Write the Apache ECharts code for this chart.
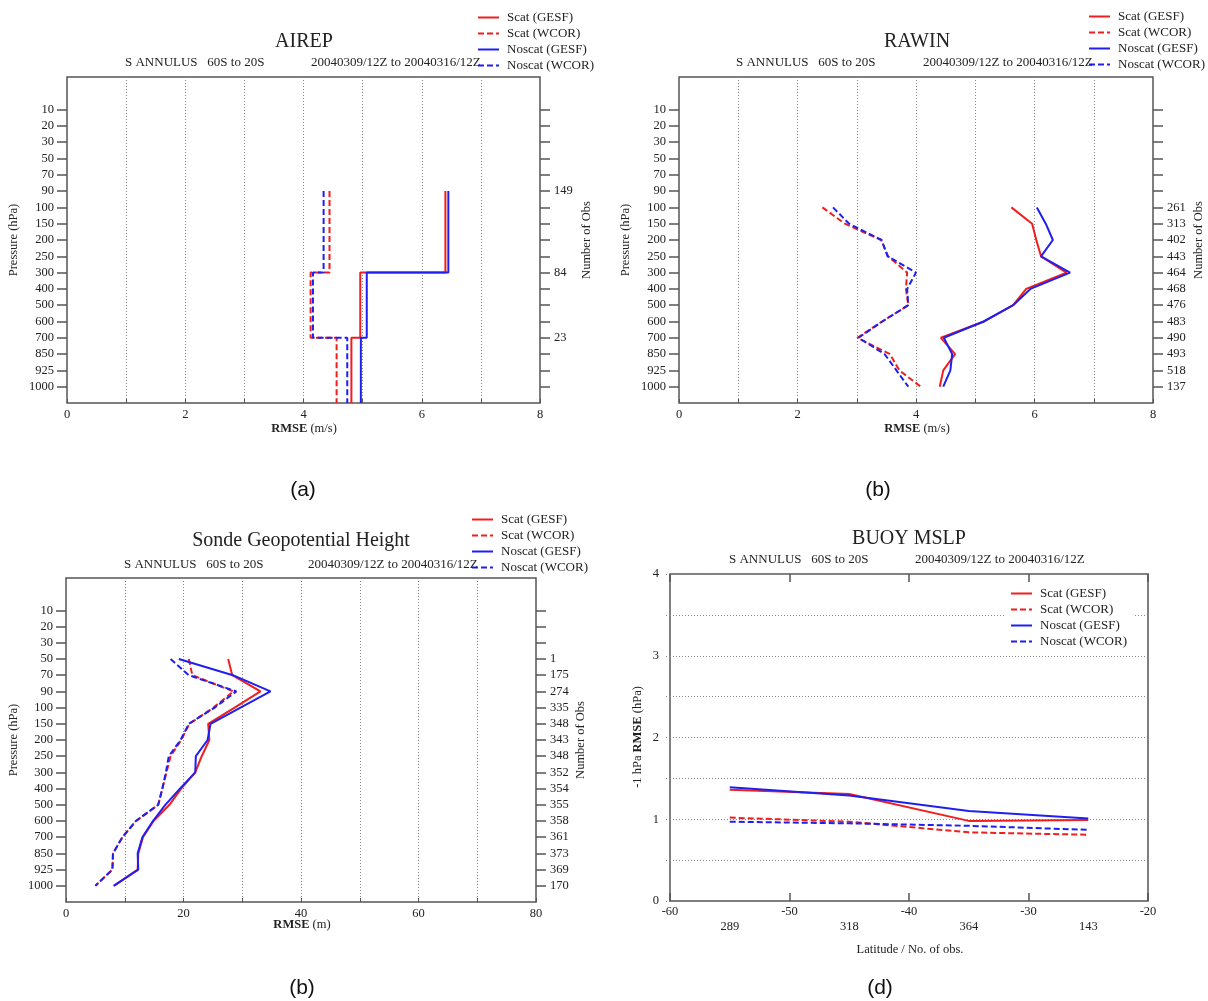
<!DOCTYPE html>
<html>
<head>
<meta charset="utf-8">
<script src="https://cdn.jsdelivr.net/npm/echarts@6/dist/echarts.min.js"></script>
<style>
  html, body { margin: 0; padding: 0; background: #fff; }
  #chart { width: 1208px; height: 1001px; }
</style>
</head>
<body>
<div id="chart"></div>
<script>
// Standard pressure levels (hPa), top of the atmosphere first
const LEVELS = ['10', '20', '30', '50', '70', '90', '100', '150', '200', '250', '300', '400', '500', '600', '700', '850', '925', '1000'];
const SERIES_NAMES = ['Scat (GESF)', 'Scat (WCOR)', 'Noscat (GESF)', 'Noscat (WCOR)'];

// AIREP wind RMSE (m/s): one value per layer, layer starts at the given level and runs to the next
const airepLayerTops = ['90', '300', '700'];
const airepObs = [149, 84, 23];
const airepScatGesf = [6.40, 4.96, 4.81];
const airepScatWcor = [4.44, 4.12, 4.56];
const airepNoscatGesf = [6.45, 5.07, 4.97];
const airepNoscatWcor = [4.34, 4.16, 4.74];

// RAWIN wind RMSE (m/s)
const rawinLevels = ['100', '150', '200', '250', '300', '400', '500', '600', '700', '850', '925', '1000'];
const rawinObs = [261, 313, 402, 443, 464, 468, 476, 483, 490, 493, 518, 137];
const rawinScatGesf = [5.61, 5.96, 6.03, 6.11, 6.54, 5.86, 5.64, 5.15, 4.42, 4.66, 4.46, 4.40];
const rawinScatWcor = [2.42, 2.80, 3.41, 3.53, 3.85, 3.83, 3.87, 3.43, 3.01, 3.56, 3.72, 4.08];
const rawinNoscatGesf = [6.04, 6.19, 6.31, 6.11, 6.60, 5.93, 5.64, 5.14, 4.47, 4.61, 4.58, 4.46];
const rawinNoscatWcor = [2.60, 2.87, 3.42, 3.52, 4.00, 3.85, 3.87, 3.43, 3.03, 3.47, 3.67, 3.87];

// Sonde geopotential height RMSE (m)
const sondeLevels = ['50', '70', '90', '100', '150', '200', '250', '300', '400', '500', '600', '700', '850', '925', '1000'];
const sondeObs = [1, 175, 274, 335, 348, 343, 348, 352, 354, 355, 358, 361, 373, 369, 170];
const sondeScatGesf = [27.6, 28.3, 33.1, 28.7, 24.2, 24.4, 23.1, 22.0, 19.6, 17.6, 14.9, 13.1, 12.3, 12.2, 8.2];
const sondeScatWcor = [20.9, 21.5, 28.5, 25.1, 21.0, 19.6, 17.8, 17.1, 16.4, 15.7, 11.9, 9.6, 8.0, 7.9, 5.0];
const sondeNoscatGesf = [19.2, 28.4, 34.8, 29.7, 24.6, 24.1, 22.1, 22.0, 19.4, 16.9, 14.8, 13.0, 12.2, 12.3, 8.1];
const sondeNoscatWcor = [17.8, 20.9, 29.0, 25.3, 20.9, 19.5, 17.5, 17.0, 16.4, 15.7, 11.9, 9.6, 8.0, 7.9, 5.0];

// Buoy MSLP RMSE (hPa) by latitude band centre
const buoyLatitudes = [-55, -45, -35, -25];
const buoyObs = [289, 318, 364, 143];
const buoyScatGesf = [1.36, 1.31, 0.98, 0.99];
const buoyScatWcor = [1.02, 0.97, 0.84, 0.81];
const buoyNoscatGesf = [1.39, 1.29, 1.10, 1.01];
const buoyNoscatWcor = [0.97, 0.95, 0.92, 0.87];

const SERIF = '"Liberation Serif", "Times New Roman", serif';
const SANS = '"Liberation Sans", Arial, sans-serif';
const RED = '#f21d1d';
const BLUE = '#1f1ff2';
const AXIS = '#555';
const TEXT = '#222';
const GRID_LINE = { type: [1, 2], color: '#8a8a8a', width: 1 };
const COLORS = [RED, RED, BLUE, BLUE];
const DASHED = [false, true, false, true];

const labelFont = { fontFamily: SERIF, fontSize: 12.5, color: TEXT };
const NO_LINE = { show: false, onZero: false };

const levelIndex = l => LEVELS.indexOf(l);

// profile points: [value, level index]
function profile(levels, values) {
  return values.map((v, i) => [v, levelIndex(levels[i])]);
}

// layered step profile: each value holds from its layer top down to the next layer (or the surface)
function layered(tops, values) {
  const bounds = tops.map(levelIndex).concat([LEVELS.length]);
  const pts = [];
  values.forEach((v, i) => { pts.push([v, bounds[i]]); pts.push([v, bounds[i + 1]]); });
  return pts;
}

function lineSeries(k, xi, yi, data) {
  return {
    name: SERIES_NAMES[k], type: 'line', xAxisIndex: xi, yAxisIndex: yi,
    data, symbol: 'none', showSymbol: false, animation: false, z: 5,
    lineStyle: { color: COLORS[k], width: 2, type: DASHED[k] ? [6, 3] : 'solid' },
    itemStyle: { color: COLORS[k] }
  };
}

function pressureAxes(gi, obsLevels, obsCounts) {
  const all = LEVELS.map((_, i) => i);
  const obsIdx = obsLevels.map(levelIndex);
  const common = {
    type: 'value', gridIndex: gi, min: -2, max: LEVELS.length, interval: 1, inverse: true,
    axisLine: NO_LINE, splitLine: { show: false }
  };
  return [
    Object.assign({}, common, {
      position: 'left',
      axisTick: { show: true, length: 10, customValues: all, lineStyle: { color: AXIS, width: 1.5 } },
      axisLabel: Object.assign({ customValues: all, margin: 13, formatter: v => LEVELS[v] || '' }, labelFont)
    }),
    Object.assign({}, common, {
      position: 'right',
      axisTick: { show: true, length: 10, customValues: all, lineStyle: { color: AXIS, width: 1.5 } },
      axisLabel: Object.assign({
        customValues: obsIdx, margin: 14,
        formatter: v => { const k = obsIdx.indexOf(v); return k >= 0 ? String(obsCounts[k]) : ''; }
      }, labelFont)
    })
  ];
}

function rmseAxis(gi, max, step, labelStep) {
  return {
    type: 'value', gridIndex: gi, min: 0, max, interval: step, position: 'bottom',
    axisLine: NO_LINE,
    axisTick: { show: true, inside: true, length: 4, lineStyle: { color: AXIS, width: 1 } },
    axisLabel: Object.assign({ margin: 5, formatter: v => (v % labelStep === 0 ? String(v) : '') }, labelFont),
    splitLine: { show: true, showMinLine: false, showMaxLine: false, lineStyle: GRID_LINE }
  };
}

const gridBox = { show: true, borderColor: AXIS, borderWidth: 1.5, backgroundColor: 'transparent' };
const grids = [
  Object.assign({ left: 67, top: 77, width: 473, height: 326 }, gridBox),
  Object.assign({ left: 679, top: 77, width: 474, height: 326 }, gridBox),
  Object.assign({ left: 66, top: 578, width: 470, height: 324 }, gridBox),
  Object.assign({ left: 670, top: 574, width: 478, height: 327 }, gridBox)
];

const xAxes = [
  rmseAxis(0, 8, 1, 2),
  rmseAxis(1, 8, 1, 2),
  rmseAxis(2, 80, 10, 20),
  // buoy latitude axis
  {
    type: 'value', gridIndex: 3, min: -60, max: -20, interval: 10, position: 'bottom',
    axisLine: NO_LINE,
    axisTick: { show: true, inside: true, length: 8, lineStyle: { color: AXIS, width: 1.5 } },
    axisLabel: Object.assign({ margin: 4 }, labelFont),
    splitLine: { show: false }
  },
  {
    type: 'value', gridIndex: 3, min: -60, max: -20, interval: 10, position: 'top',
    axisLine: NO_LINE,
    axisTick: { show: true, inside: true, length: 8, lineStyle: { color: AXIS, width: 1.5 } },
    axisLabel: { show: false }, splitLine: { show: false }
  },
  // observation counts under each latitude band
  {
    type: 'value', gridIndex: 3, min: -60, max: -20, interval: 10, position: 'bottom',
    axisLine: NO_LINE, axisTick: { show: false }, splitLine: { show: false },
    axisLabel: Object.assign({
      customValues: buoyLatitudes, margin: 19,
      formatter: v => { const k = buoyLatitudes.indexOf(v); return k >= 0 ? String(buoyObs[k]) : ''; }
    }, labelFont)
  }
];

const yAxes = [].concat(
  pressureAxes(0, airepLayerTops, airepObs),
  pressureAxes(1, rawinLevels, rawinObs),
  pressureAxes(2, sondeLevels, sondeObs),
  [{
    type: 'value', gridIndex: 3, min: 0, max: 4, interval: 0.5, position: 'left',
    axisLine: NO_LINE,
    axisTick: { show: true, length: 6, lineStyle: GRID_LINE },
    axisLabel: Object.assign({ margin: 11, formatter: v => (Number.isInteger(v) ? String(v) : '') }, labelFont),
    splitLine: { show: true, showMinLine: false, lineStyle: GRID_LINE }
  }]
);

const series = [];
[airepScatGesf, airepScatWcor, airepNoscatGesf, airepNoscatWcor].forEach((vals, k) =>
  series.push(lineSeries(k, 0, 0, layered(airepLayerTops, vals))));
[rawinScatGesf, rawinScatWcor, rawinNoscatGesf, rawinNoscatWcor].forEach((vals, k) =>
  series.push(lineSeries(k, 1, 2, profile(rawinLevels, vals))));
[sondeScatGesf, sondeScatWcor, sondeNoscatGesf, sondeNoscatWcor].forEach((vals, k) =>
  series.push(lineSeries(k, 2, 4, profile(sondeLevels, vals))));
[buoyScatGesf, buoyScatWcor, buoyNoscatGesf, buoyNoscatWcor].forEach((vals, k) =>
  series.push(lineSeries(k, 3, 6, vals.map((v, i) => [buoyLatitudes[i], v]))));

function legendAt(left, top, extra) {
  return Object.assign({
    data: SERIES_NAMES, orient: 'vertical', left, top, padding: 0,
    itemWidth: 21, itemHeight: 12, itemGap: 3, selectedMode: false,
    itemStyle: { opacity: 0 },
    textStyle: { fontFamily: SERIF, fontSize: 13, lineHeight: 13, color: TEXT, padding: [0, 0, 0, 3] }
  }, extra || {});
}

function txt(text, x, y, size, opts) {
  opts = opts || {};
  const align = opts.align || 'center';
  return {
    type: 'text', x, y, rotation: opts.rotation || 0, z: 10,
    style: {
      text, x: 0, y: 0,
      font: (opts.weight || 'normal') + ' ' + size + 'px ' + (opts.family || SERIF),
      fill: opts.color || TEXT,
      align, textAlign: align,
      verticalAlign: 'middle', textVerticalAlign: 'middle',
      rich: opts.rich
    }
  };
}

const boldRich = { b: { fontFamily: SERIF, fontSize: 12.5, fontWeight: 'bold', fill: TEXT, color: TEXT } };
const ROT = Math.PI / 2;
const SUB = 13;

const texts = [
  // AIREP
  txt('AIREP', 304, 42, 20),
  txt('S ANNULUS   60S to 20S', 125, 63, SUB, { align: 'left' }),
  txt('20040309/12Z to 20040316/12Z', 311, 63, SUB, { align: 'left' }),
  txt('{b|RMSE} (m/s)', 304, 429, 12.5, { rich: boldRich }),
  txt('Pressure (hPa)', 14, 240, 12.5, { rotation: ROT }),
  txt('Number of Obs', 587, 240, 12.5, { rotation: ROT }),
  txt('(a)', 303, 490, 21, { family: SANS, color: '#111' }),
  // RAWIN
  txt('RAWIN', 917, 42, 20),
  txt('S ANNULUS   60S to 20S', 736, 63, SUB, { align: 'left' }),
  txt('20040309/12Z to 20040316/12Z', 923, 63, SUB, { align: 'left' }),
  txt('{b|RMSE} (m/s)', 917, 429, 12.5, { rich: boldRich }),
  txt('Pressure (hPa)', 626, 240, 12.5, { rotation: ROT }),
  txt('Number of Obs', 1199, 240, 12.5, { rotation: ROT }),
  txt('(b)', 878, 490, 21, { family: SANS, color: '#111' }),
  // Sonde geopotential height
  txt('Sonde Geopotential Height', 301, 541, 20),
  txt('S ANNULUS   60S to 20S', 124, 565, SUB, { align: 'left' }),
  txt('20040309/12Z to 20040316/12Z', 308, 565, SUB, { align: 'left' }),
  txt('{b|RMSE} (m)', 302, 925, 12.5, { rich: boldRich }),
  txt('Pressure (hPa)', 14, 740, 12.5, { rotation: ROT }),
  txt('Number of Obs', 581, 740, 12.5, { rotation: ROT }),
  txt('(b)', 302, 988, 21, { family: SANS, color: '#111' }),
  // Buoy MSLP
  txt('BUOY MSLP', 909, 539, 20),
  txt('S ANNULUS   60S to 20S', 729, 560, SUB, { align: 'left' }),
  txt('20040309/12Z to 20040316/12Z', 915, 560, SUB, { align: 'left' }),
  txt('Latitude / No. of obs.', 910, 950, 12.5),
  txt('-1 hPa {b|RMSE} (hPa)', 638, 737, 12.5, { rotation: ROT, rich: boldRich }),
  txt('(d)', 880, 988, 21, { family: SANS, color: '#111' })
];

const chart = echarts.init(document.getElementById('chart'), null, { renderer: 'canvas' });
chart.setOption({
  animation: false,
  backgroundColor: '#fff',
  grid: grids,
  xAxis: xAxes,
  yAxis: yAxes,
  series,
  legend: [
    legendAt(477, 11),
    legendAt(1088, 10),
    legendAt(471, 513),
    legendAt(1004, 584, { backgroundColor: '#fff', padding: [3, 6, 3, 6] })
  ],
  graphic: texts
});
</script>
</body>
</html>
